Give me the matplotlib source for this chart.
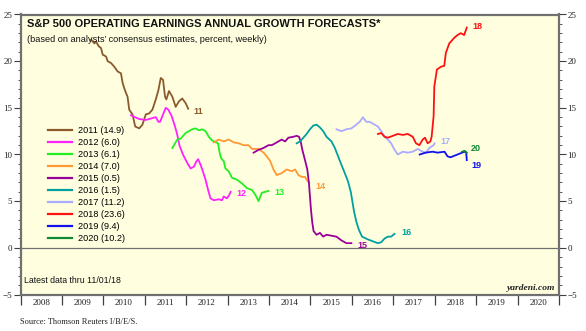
import matplotlib
matplotlib.use("Agg")
import matplotlib.pyplot as plt
from matplotlib.ticker import MultipleLocator, FixedLocator

# ---- data: consensus annual growth forecasts (year, percent) ----
y2011_t = [2009.705, 2009.784, 2009.825, 2009.888, 2009.945, 2009.984, 2010.065, 2010.104, 2010.185,
           2010.265, 2010.344, 2010.425, 2010.464, 2010.505, 2010.546, 2010.584, 2010.625, 2010.704,
           2010.769, 2010.865, 2010.944, 2011.026, 2011.105, 2011.184, 2011.266, 2011.329, 2011.386,
           2011.441, 2011.489, 2011.521, 2011.585, 2011.665, 2011.746, 2011.826, 2011.905, 2011.987,
           2012.049]
y2011_v = [22.3, 21.9, 22.1, 21.6, 21.4, 20.7, 20.5, 20.0, 19.8,
           19.4, 18.9, 18.7, 17.7, 17.1, 16.6, 16.2, 14.8, 14.3,
           13.0, 12.8, 13.2, 14.3, 14.4, 14.8, 15.9, 16.9, 18.2,
           18.0, 16.2, 15.9, 16.8, 16.2, 15.1, 15.7, 16.0, 15.5,
           14.9]

y2012_t = [2010.666, 2010.865, 2011.026, 2011.184, 2011.266, 2011.329, 2011.369, 2011.506, 2011.569,
           2011.650, 2011.730, 2011.785, 2011.842, 2011.922, 2012.025, 2012.107, 2012.186, 2012.251,
           2012.289, 2012.347, 2012.402, 2012.467, 2012.529, 2012.587, 2012.666, 2012.786, 2012.865,
           2012.906, 2012.986, 2013.043, 2013.074]
y2012_v = [14.2, 13.8, 13.7, 13.9, 14.0, 13.5, 13.5, 15.0, 14.8,
           14.1, 13.0, 12.1, 10.9, 10.0, 9.1, 8.5, 8.7, 9.3,
           9.5, 8.9, 8.2, 7.3, 6.2, 5.3, 5.1, 5.2, 5.1,
           5.5, 5.3, 5.7, 6.0]

y2013_t = [2011.665, 2011.706, 2011.785, 2011.866, 2011.987, 2012.066, 2012.145, 2012.227, 2012.306,
           2012.385, 2012.467, 2012.546, 2012.625, 2012.721, 2012.769, 2012.803, 2012.841, 2012.906,
           2012.947, 2013.026, 2013.106, 2013.226, 2013.346, 2013.466, 2013.586, 2013.668, 2013.747,
           2013.826, 2013.908, 2013.987]
y2013_v = [10.7, 11.0, 11.6, 11.7, 12.3, 12.5, 12.7, 12.8, 12.6,
           12.7, 12.5, 11.9, 11.5, 11.3, 11.2, 10.3, 9.6, 9.3,
           8.5, 8.2, 7.5, 7.3, 6.9, 6.4, 6.2, 5.7, 5.0,
           5.9, 6.0, 6.1]

y2014_t = [2012.666, 2012.786, 2012.906, 2013.026, 2013.146, 2013.266, 2013.386, 2013.507, 2013.586,
           2013.747, 2013.867, 2013.946, 2014.028, 2014.107, 2014.186, 2014.306, 2014.427, 2014.547,
           2014.628, 2014.708, 2014.787, 2014.868, 2014.907, 2014.964]
y2014_v = [11.3, 11.6, 11.4, 11.6, 11.3, 11.2, 11.0, 11.0, 10.6,
           10.6, 10.2, 9.8, 9.3, 8.4, 7.8, 8.0, 8.4, 8.2,
           8.4, 7.8, 7.6, 7.6, 7.3, 7.0]

y2015_t = [2013.627, 2013.747, 2013.867, 2013.987, 2014.066, 2014.148, 2014.227, 2014.306, 2014.388,
           2014.467, 2014.587, 2014.667, 2014.724, 2014.763, 2014.804, 2014.868, 2014.924, 2014.964,
           2014.988, 2015.012, 2015.044, 2015.075, 2015.147, 2015.229, 2015.308, 2015.387, 2015.507,
           2015.627, 2015.747, 2015.867, 2015.988]
y2015_v = [10.2, 10.5, 10.7, 11.0, 11.0, 11.2, 11.4, 11.6, 11.4,
           11.8, 11.9, 12.0, 11.9, 11.4, 10.5, 9.4, 8.4, 6.9,
           5.5, 4.1, 2.7, 1.8, 1.4, 1.6, 1.2, 1.4, 1.3,
           1.2, 0.8, 0.5, 0.5]

y2016_t = [2014.667, 2014.748, 2014.828, 2014.907, 2014.988, 2015.068, 2015.147, 2015.229, 2015.308,
           2015.387, 2015.507, 2015.589, 2015.668, 2015.747, 2015.829, 2015.908, 2015.973, 2016.011,
           2016.052, 2016.107, 2016.172, 2016.245, 2016.388, 2016.507, 2016.627, 2016.708, 2016.790,
           2016.868, 2016.948, 2017.030]
y2016_v = [11.2, 11.4, 11.8, 12.2, 12.7, 13.1, 13.2, 12.9, 12.5,
           11.9, 11.4, 10.7, 9.8, 8.9, 8.0, 7.1, 6.0, 5.0,
           3.9, 2.8, 1.9, 1.2, 0.9, 0.7, 0.5, 0.6, 1.0,
           1.2, 1.2, 1.5]

y2017_t = [2015.628, 2015.747, 2015.867, 2015.988, 2016.107, 2016.189, 2016.268, 2016.347, 2016.429,
           2016.549, 2016.628, 2016.708, 2016.790, 2016.868, 2016.948, 2017.030, 2017.109, 2017.229,
           2017.349, 2017.469, 2017.589, 2017.709, 2017.789, 2017.870, 2017.973, 2017.997]
y2017_v = [12.7, 12.5, 12.7, 12.8, 13.2, 13.5, 14.0, 13.5, 13.5,
           13.2, 13.0, 12.5, 11.9, 11.6, 11.2, 10.5, 10.0, 10.3,
           10.2, 10.3, 10.6, 10.3, 10.2, 10.7, 11.0, 11.2]

y2018_t = [2016.628, 2016.708, 2016.790, 2016.868, 2016.988, 2017.108, 2017.229, 2017.349, 2017.469,
           2017.548, 2017.629, 2017.709, 2017.764, 2017.829, 2017.894, 2017.925, 2017.973, 2017.990,
           2018.053, 2018.149, 2018.230, 2018.269, 2018.351, 2018.471, 2018.550, 2018.629, 2018.711,
           2018.774]
y2018_v = [12.2, 12.3, 11.9, 11.8, 12.0, 12.2, 12.1, 12.2, 11.9,
           11.2, 11.0, 11.6, 11.8, 11.2, 11.4, 11.9, 14.1, 17.3,
           19.1, 19.4, 19.5, 20.9, 21.9, 22.5, 22.8, 23.0, 22.8,
           23.6]

y2019_t = [2017.637, 2017.781, 2017.949, 2018.069, 2018.237, 2018.309, 2018.381, 2018.550, 2018.718,
           2018.760, 2018.774]
y2019_v = [10.0, 10.2, 10.3, 10.2, 10.3, 9.8, 9.7, 10.0, 10.3,
           10.2, 9.4]

y2020_t = [2018.660, 2018.720, 2018.774]
y2020_v = [10.3, 10.4, 10.2]

series_names = ["2011", "2012", "2013", "2014", "2015", "2016", "2017", "2018", "2019", "2020"]
series_tags = ["11", "12", "13", "14", "15", "16", "17", "18", "19", "20"]
latest = [14.9, 6.0, 6.1, 7.0, 0.5, 1.5, 11.2, 23.6, 9.4, 10.2]
series_t = [y2011_t, y2012_t, y2013_t, y2014_t, y2015_t, y2016_t, y2017_t, y2018_t, y2019_t, y2020_t]
series_v = [y2011_v, y2012_v, y2013_v, y2014_v, y2015_v, y2016_v, y2017_v, y2018_v, y2019_v, y2020_v]
colors = ["#8B5A2B", "#FF22FF", "#22EE22", "#FF9933", "#990099",
          "#00A0A0", "#AAAAFF", "#FF1111", "#1111EE", "#118833"]
tag_offsets = [(4, -2), (4, -1), (4, -1), (5, -3), (4, -2), (5, 1), (4, 1), (4, 1), (3, -4), (3, 3)]

year_labels = [str(y) for y in range(2008, 2021)]

# ---- figure ----
fig = plt.figure(figsize=(5.86, 3.31), dpi=100)
ax = fig.add_axes([20.5 / 586, 1 - 294.5 / 331, (559 - 20.5) / 586, (294.5 - 14.5) / 331])
ax.set_facecolor("#FFFFE0")
ax.set_xlim(2008, 2021)
ax.set_ylim(-5, 25)

for sp in ax.spines.values():
    sp.set_color("#707070")
    sp.set_linewidth(1.6)

ax.axhline(0, color="#707070", lw=0.9, zorder=1)

for name, t, v, c, tag, off in zip(series_names, series_t, series_v, colors, series_tags, tag_offsets):
    ax.plot(t, v, color=c, lw=1.3, label=name, zorder=3)
    ax.annotate(tag, (t[-1], v[-1]), xytext=off, textcoords="offset points",
                color=c, fontsize=6.5, fontweight="bold", family="Liberation Sans",
                ha="left", va="center")

# ---- axes ticks ----
ax.yaxis.set_major_locator(MultipleLocator(5))
ax.yaxis.set_minor_locator(MultipleLocator(1))
ax.tick_params(axis="y", which="both", left=True, right=True, labelleft=True, labelright=True,
               direction="out", colors="#404040", labelcolor="#222222", labelsize=6.5, pad=1)
ax.tick_params(axis="y", which="major", length=5, width=0.8)
ax.tick_params(axis="y", which="minor", length=2.5, width=0.6)
for lab in ax.get_yticklabels():
    lab.set_family("Liberation Serif")

ax.xaxis.set_major_locator(FixedLocator(range(2008, 2022)))
ax.xaxis.set_minor_locator(FixedLocator([y + 0.5 for y in range(2008, 2021)]))
ax.set_xticklabels([])
ax.set_xticklabels(year_labels, minor=True, family="Liberation Serif", fontsize=6.5, color="#222222")
ax.tick_params(axis="x", which="major", direction="out", length=7, width=0.9, colors="#404040")
ax.tick_params(axis="x", which="minor", length=0, pad=3)

# ---- text ----
ax.text(0.012, 0.985, "S&P 500 OPERATING EARNINGS ANNUAL GROWTH FORECASTS*",
        transform=ax.transAxes, fontsize=8.0, fontweight="bold", family="Liberation Sans",
        va="top", ha="left", color="#111111")
ax.text(0.012, 0.925, "(based on analysts\u2019 consensus estimates, percent, weekly)",
        transform=ax.transAxes, fontsize=6.6, family="Liberation Sans",
        va="top", ha="left", color="#111111")
ax.text(0.006, 0.05, "Latest data thru 11/01/18", transform=ax.transAxes,
        fontsize=6.3, family="Liberation Sans", va="center", ha="left", color="#111111")
ax.text(0.993, 0.025, "yardeni.com", transform=ax.transAxes, fontsize=6.8,
        family="Liberation Serif", style="italic", fontweight="bold",
        va="center", ha="right", color="#222222")
fig.text(20 / 586, 1 - 322 / 331, "Source: Thomson Reuters I/B/E/S.", fontsize=6,
         family="Liberation Serif", va="center", ha="left", color="#222222")

leg = ax.legend(loc="upper left", bbox_to_anchor=(0.045, 0.615), frameon=False,
                handlelength=2.6, handletextpad=0.6, labelspacing=0.33,
                prop={"family": "Liberation Sans", "size": 6.6}, borderaxespad=0)
for txt, val in zip(leg.get_texts(), latest):
    txt.set_text(f"{txt.get_text()} ({val})")
for ln in leg.get_lines():
    ln.set_linewidth(1.6)

fig.savefig("out.png", dpi=100, facecolor="white")
